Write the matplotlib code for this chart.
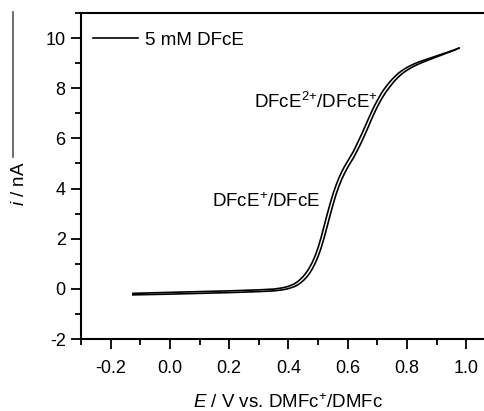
import matplotlib
matplotlib.use("Agg")
import matplotlib.pyplot as plt
from matplotlib.lines import Line2D
from matplotlib.ticker import MultipleLocator

plt.rcParams['font.family'] = ['Liberation Sans', 'DejaVu Sans']
plt.rcParams['mathtext.fontset'] = 'custom'
plt.rcParams['mathtext.rm'] = 'Liberation Sans'
plt.rcParams['mathtext.it'] = 'Liberation Sans:italic'

# potential grid (V vs. DMFc+/DMFc), same for both sweeps
e_vals = [-0.125, 0.0, 0.1, 0.2, 0.3, 0.35, 0.38, 0.40, 0.42, 0.43, 0.44, 0.45, 0.46, 0.47,
          0.48, 0.49, 0.50, 0.51, 0.52, 0.53, 0.54, 0.55, 0.56, 0.57, 0.58, 0.59, 0.60,
          0.61, 0.62, 0.63, 0.64, 0.65, 0.66, 0.67, 0.68, 0.69, 0.70, 0.71, 0.72, 0.73,
          0.74, 0.75, 0.76, 0.77, 0.78, 0.79, 0.80, 0.82, 0.84, 0.86, 0.88, 0.90, 0.92,
          0.94, 0.96, 0.975]

# forward sweep (left / upper branch), nA
i_fwd = [-0.18, -0.14, -0.11, -0.08, -0.04, -0.01, 0.04, 0.1, 0.2, 0.28, 0.38, 0.5, 0.65, 0.83,
         1.05, 1.32, 1.65, 2.05, 2.5, 2.95, 3.38, 3.78, 4.12, 4.42, 4.68, 4.9, 5.1,
         5.3, 5.5, 5.75, 6.0, 6.25, 6.52, 6.79, 7.05, 7.3, 7.52, 7.73, 7.92, 8.08,
         8.23, 8.36, 8.48, 8.59, 8.68, 8.76, 8.83, 8.95, 9.05, 9.13, 9.21, 9.29, 9.37,
         9.45, 9.53, 9.6]

# reverse sweep (right / lower branch), nA
i_rev = [-0.24, -0.21, -0.18, -0.15, -0.11, -0.08, -0.04, 0.01, 0.09, 0.15, 0.23, 0.33, 0.45, 0.6,
         0.79, 1.02, 1.3, 1.63, 2.03, 2.47, 2.92, 3.35, 3.75, 4.09, 4.38, 4.63, 4.85,
         5.05, 5.24, 5.47, 5.7, 5.95, 6.21, 6.48, 6.76, 7.02, 7.27, 7.49, 7.69, 7.87,
         8.03, 8.18, 8.32, 8.44, 8.55, 8.64, 8.72, 8.86, 8.97, 9.07, 9.16, 9.25, 9.34,
         9.43, 9.52, 9.6]

fig = plt.figure(figsize=(4.84, 4.11), dpi=100)
ax = fig.add_axes([81/484, 72/411, 415/484, 326/411])

ax.plot(e_vals, i_fwd, color='black', lw=1.2, label='5 mM DFcE')
ax.plot(e_vals, i_rev, color='black', lw=1.2)

ax.set_xlim(-0.3, 1.1)
ax.set_ylim(-2, 11)
ax.xaxis.set_minor_locator(MultipleLocator(0.1))
ax.yaxis.set_minor_locator(MultipleLocator(1))
ax.set_xticks([-0.2, 0.0, 0.2, 0.4, 0.6, 0.8, 1.0])
ax.set_xticklabels(['-0.2', '0.0', '0.2', '0.4', '0.6', '0.8', '1.0'])
ax.set_yticks([-2, 0, 2, 4, 6, 8, 10])
ax.set_yticklabels(['-2', '0', '2', '4', '6', '8', '10'])
ax.tick_params(which='major', direction='out', length=7, width=1.3, labelsize=13)
ax.tick_params(axis='x', which='major', pad=8)
ax.tick_params(axis='y', which='major', pad=4)
ax.tick_params(which='minor', direction='out', length=4, width=1.3)
for s in ax.spines.values():
    s.set_linewidth(1.5)

ax.set_xlabel('$\\it{E}$ / V vs. DMFc$^{{+}}$/DMFc', fontsize=13.5, labelpad=12)
ax.set_ylabel('$\\it{i}$ / nA', fontsize=13.5)
ax.yaxis.set_label_coords(-0.128, 0.475)

ax.legend(loc='upper left', frameon=False, fontsize=13.5, handlelength=2.4,
          borderaxespad=0.0, handletextpad=0.4, bbox_to_anchor=(0.01, 0.965))

ax.text(0.142, 3.46, 'DFcE$^{{+}}$/DFcE', fontsize=13.5, ha='left', va='center')
ax.text(0.285, 7.44, 'DFcE$^{2{+}}$/DFcE$^{{+}}$', fontsize=13.5, ha='left', va='center')

# stray frame line at the left edge of the crop
fig.add_artist(Line2D([13/484, 13/484], [1 - 12/411, 1 - 157/411], color='#555555', lw=1.2))

fig.savefig('out.png', dpi=100)
